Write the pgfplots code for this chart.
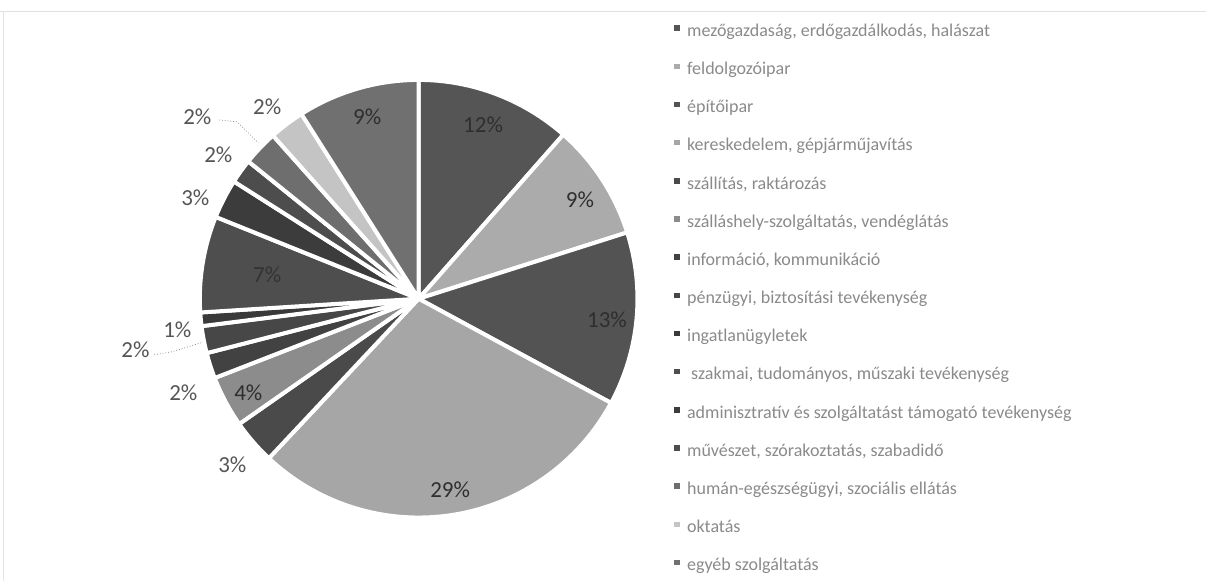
\documentclass[border=0pt]{standalone}
\usepackage{pgfplots}
\pgfplotsset{compat=1.18}
\usepackage{pgfplotstable}
\usepackage{fontspec}
\setmainfont{Carlito}

\definecolor{s0}{HTML}{555555}
\definecolor{s1}{HTML}{ABABAB}
\definecolor{s2}{HTML}{535353}
\definecolor{s3}{HTML}{A6A6A6}
\definecolor{s4}{HTML}{4A4A4A}
\definecolor{s5}{HTML}{8C8C8C}
\definecolor{s6}{HTML}{424242}
\definecolor{s7}{HTML}{474747}
\definecolor{s8}{HTML}{3A3A3A}
\definecolor{s9}{HTML}{4E4E4E}
\definecolor{s10}{HTML}{3C3C3C}
\definecolor{s11}{HTML}{4D4D4D}
\definecolor{s12}{HTML}{6E6E6E}
\definecolor{s13}{HTML}{C4C4C4}
\definecolor{s14}{HTML}{707070}
\definecolor{legtext}{HTML}{8A8A8A}
\definecolor{outlab}{HTML}{555555}
\definecolor{inlab}{HTML}{2E2E2E}

% share of each sector (%), clockwise from 12 o'clock
\pgfplotstableread{
value
11.5
8.6
12.8
29.1
3.3
3.8
1.9
2.0
1.0
7.1
2.9
1.8
2.6
2.6
9.0
}\piedata

\pgfplotsset{sq/.style={legend image code/.code={\fill[##1,draw=none] (0pt,0.7pt) rectangle (2.8pt,3.5pt);}}}

\begin{document}
\begin{tikzpicture}
\begin{axis}[
  x=0.5pt, y=0.5pt,
  xmin=0, xmax=1206, ymin=0, ymax=581,
  hide axis, clip=false,
  legend style={at={(axis cs:674,558)}, anchor=north west, draw=none, fill=none,
    font=\fontsize{9pt}{10pt}\selectfont, text=legtext,
    nodes={inner sep=0pt, text height=6.5pt, text depth=2.5pt},
    row sep=10.1pt, column sep=3.6pt, inner sep=0pt},
  legend cell align=left,
]
\pgfplotsextra{%
  \path (axis cs:0,0) rectangle (axis cs:1206,581);
  \draw[black!12, line width=0.5pt] (axis cs:0,569) -- (axis cs:1206,569);
  \draw[black!10, line width=0.5pt] (axis cs:3,569) -- (axis cs:3,0);
  \gdef\cum{0}%
  \pgfplotsforeachungrouped \i in {0,...,14}{%
    \pgfplotstablegetelem{\i}{value}\of\piedata
    \let\v\pgfplotsretval
    \pgfmathsetmacro\aS{90-3.6*\cum}%
    \pgfmathsetmacro\aE{90-3.6*(\cum+\v)}%
    \edef\col{s\i}%
    \path[fill=\col, draw=white, line width=2pt, line join=round]
      (axis cs:418.5,282) -- ++(\aS:109.5pt) arc[start angle=\aS, end angle=\aE, radius=109.5pt] -- cycle;
    \pgfmathsetmacro\cum{\cum+\v}%
  }%
  % data labels
  \begingroup
  \tikzset{every node/.style={font=\fontsize{11.5pt}{13pt}\selectfont, inner sep=0pt}}
  \node[text=inlab] at (axis cs:483,456) {12\%};
  \node[text=inlab] at (axis cs:580,381) {9\%};
  \node[text=inlab] at (axis cs:607,261) {13\%};
  \node[text=inlab] at (axis cs:450,91) {29\%};
  \node[text=outlab] at (axis cs:232,116) {3\%};
  \node[text=inlab] at (axis cs:248,188) {4\%};
  \node[text=outlab] at (axis cs:183,188) {2\%};
  \node[text=outlab] at (axis cs:135,231) {2\%};
  \node[text=outlab] at (axis cs:177,251) {1\%};
  \node[text=black!80] at (axis cs:267,306) {7\%};
  \node[text=outlab] at (axis cs:195,383) {3\%};
  \node[text=outlab] at (axis cs:218,426) {2\%};
  \node[text=outlab] at (axis cs:197,464) {2\%};
  \node[text=outlab] at (axis cs:267,474) {2\%};
  \node[text=inlab] at (axis cs:367,464) {9\%};
  \endgroup
  \draw[black!45, line width=0.4pt, densely dotted] (axis cs:154,226) -- (axis cs:172,229) -- (axis cs:201,238);
  \draw[black!45, line width=0.4pt, densely dotted] (axis cs:219,461) -- (axis cs:237,459) -- (axis cs:258,438);
}
\addlegendimage{sq, fill=s0}
\addlegendentry{mezőgazdaság, erdőgazdálkodás, halászat}
\addlegendimage{sq, fill=s1}
\addlegendentry{feldolgozóipar}
\addlegendimage{sq, fill=s2}
\addlegendentry{építőipar}
\addlegendimage{sq, fill=s3}
\addlegendentry{kereskedelem, gépjárműjavítás}
\addlegendimage{sq, fill=s4}
\addlegendentry{szállítás, raktározás}
\addlegendimage{sq, fill=s5}
\addlegendentry{szálláshely-szolgáltatás, vendéglátás}
\addlegendimage{sq, fill=s6}
\addlegendentry{információ, kommunikáció}
\addlegendimage{sq, fill=s7}
\addlegendentry{pénzügyi, biztosítási tevékenység}
\addlegendimage{sq, fill=s8}
\addlegendentry{ingatlanügyletek}
\addlegendimage{sq, fill=s9}
\addlegendentry{\ szakmai, tudományos, műszaki tevékenység}
\addlegendimage{sq, fill=s10}
\addlegendentry{adminisztratív és szolgáltatást támogató tevékenység}
\addlegendimage{sq, fill=s11}
\addlegendentry{művészet, szórakoztatás, szabadidő}
\addlegendimage{sq, fill=s12}
\addlegendentry{humán-egészségügyi, szociális ellátás}
\addlegendimage{sq, fill=s13}
\addlegendentry{oktatás}
\addlegendimage{sq, fill=s14}
\addlegendentry{egyéb szolgáltatás}
\end{axis}
\end{tikzpicture}
\end{document}
